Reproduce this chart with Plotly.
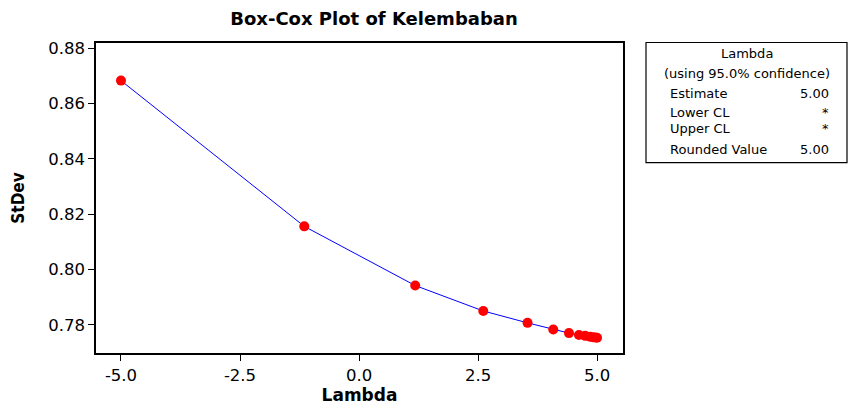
import plotly.graph_objects as go

# Data
lambdas = [-5.0, -1.15, 1.18, 2.61, 3.54, 4.08, 4.41, 4.62, 4.75, 4.85, 4.91, 4.96, 5.0]
stdev = [0.8683, 0.8156, 0.7942, 0.7850, 0.7807, 0.7783, 0.7770, 0.7763, 0.7760, 0.7757, 0.7755, 0.7754, 0.7753]

x_ticks = [-5.0, -2.5, 0.0, 2.5, 5.0]
x_ticklabels = ["-5.0", "-2.5", "0.0", "2.5", "5.0"]
y_ticks = [0.78, 0.80, 0.82, 0.84, 0.86, 0.88]
y_ticklabels = ["0.78", "0.80", "0.82", "0.84", "0.86", "0.88"]

legend_title = ["Lambda", "(using 95.0% confidence)"]
legend_rows = [("Estimate", "5.00"), ("Lower CL", "*"), ("Upper CL", "*"), ("Rounded Value", "5.00")]

W, H = 851, 410
L, R, T, B = 96, 623, 43, 367

def px(x):
    return (x - L) / (R - L)

def py(y):
    return (B - y) / (B - T)

fig = go.Figure()
fig.add_trace(go.Scatter(
    x=lambdas, y=stdev, mode="lines+markers",
    line=dict(color="#0000FF", width=1),
    marker=dict(color="#FF0000", size=10, line=dict(width=0)),
    showlegend=False, hoverinfo="x+y",
))

axis_common = dict(
    showgrid=False, zeroline=False, showline=True, linecolor="#000000", linewidth=1.5,
    mirror=True, ticks="outside", ticklen=6, tickwidth=1, tickcolor="#000000",
    tickfont=dict(family="DejaVu Sans", size=16.5, color="#000000"),
)

fig.update_layout(
    width=W, height=H,
    margin=dict(l=L, r=W - R, t=T, b=H - B, pad=0),
    paper_bgcolor="white", plot_bgcolor="white",
    title=dict(text="<b>Box-Cox Plot of Kelembaban</b>", xref="paper", x=px(374), xanchor="center",
               yref="container", y=1 - 19 / H, yanchor="middle",
               font=dict(family="DejaVu Sans", size=18, color="#000000")),
    xaxis=dict(range=[-5.525, 5.545], tickvals=x_ticks, ticktext=x_ticklabels,
               title=dict(text="<b>Lambda</b>", standoff=2,
                          font=dict(family="DejaVu Sans", size=17, color="#000000")),
               **axis_common),
    yaxis=dict(range=[0.7698, 0.8819], tickvals=y_ticks, ticktext=y_ticklabels,
               title=dict(text="<b>StDev</b>", standoff=19,
                          font=dict(family="DejaVu Sans Condensed", size=17, color="#000000")),
               **axis_common),
)

# Legend/info box
fig.add_shape(type="rect", xref="paper", yref="paper",
              x0=px(646), x1=px(847), y0=py(168), y1=py(42.5),
              line=dict(color="#000000", width=1.2), fillcolor="white")

font_box = dict(family="DejaVu Sans", size=13, color="#000000")
title_ys = [54, 75]
for txt, yy in zip(legend_title, title_ys):
    fig.add_annotation(text=txt, xref="paper", yref="paper", x=px(747), y=py(yy),
                       xanchor="center", yanchor="middle", showarrow=False, font=font_box)
row_ys = [96, 116, 132, 154]
for (lab, val), yy in zip(legend_rows, row_ys):
    fig.add_annotation(text=lab, xref="paper", yref="paper", x=px(668), y=py(yy),
                       xanchor="left", yanchor="middle", showarrow=False, font=font_box)
    fig.add_annotation(text=val, xref="paper", yref="paper", x=px(831), y=py(yy),
                       xanchor="right", yanchor="middle", showarrow=False, font=font_box)

fig.write_html("out.html")
